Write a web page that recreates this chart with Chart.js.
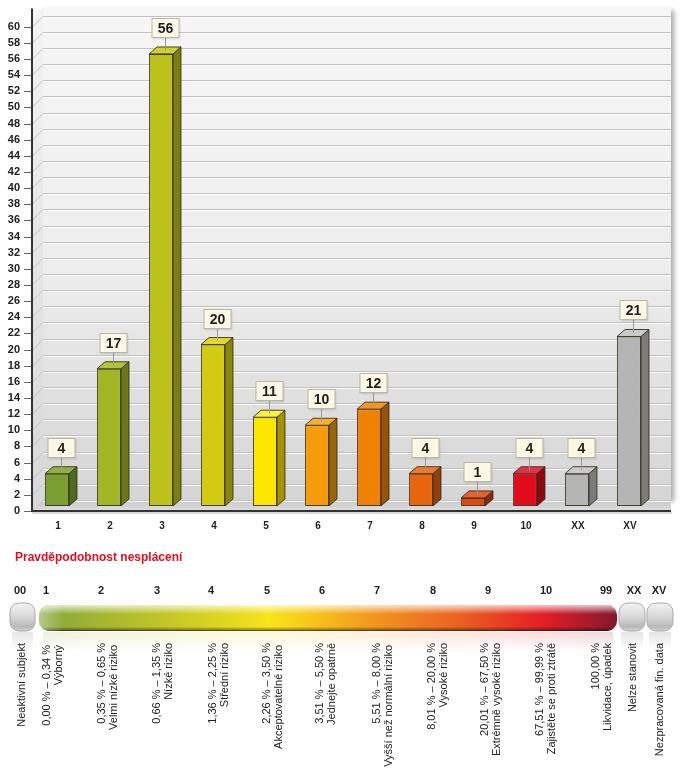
<!DOCTYPE html>
<html>
<head>
<meta charset="utf-8">
<script src="https://cdn.jsdelivr.net/npm/chart.js@4.4.0/dist/chart.umd.min.js"></script>
<style>
  body { margin: 0; background: #fff; }
  #wrap { position: relative; width: 685px; height: 545px; }
  #legend { display: block; width: 685px; height: 225px; }
</style>
</head>
<body>
<div id="wrap"><canvas id="riskChart"></canvas></div>
<canvas id="legend"></canvas>
<script>
  // Chart data
  const categories = ['1', '2', '3', '4', '5', '6', '7', '8', '9', '10', 'XX', 'XV'];
  const subjectCounts = [4, 17, 56, 20, 11, 10, 12, 4, 1, 4, 4, 21];
  const yTicks = [0, 2, 4, 6, 8, 10, 12, 14, 16, 18, 20, 22, 24, 26, 28, 30,
    32, 34, 36, 38, 40, 42, 44, 46, 48, 50, 52, 54, 56, 58, 60];
  const yMax = 61;

  // Bar colours (front, side, top)
  const barFront = ['#7a9f30', '#a2b524', '#bcc219', '#d3cb12', '#ffe600', '#f59c0b', '#ef8203', '#e9650d', '#e14712', '#e10b1b', '#b5b5b5', '#b5b5b5'];
  const barSide  = ['#4f6b1d', '#6b7815', '#7b7f0d', '#8b860a', '#a39400', '#9c6406', '#9a5302', '#923f08', '#8c2b0b', '#8e0810', '#7b7b7b', '#7b7b7b'];
  const barTop   = ['#8fb13f', '#b3c436', '#cdd22a', '#e2da26', '#fff23a', '#f8ae2e', '#f39525', '#ef7a2c', '#e8602e', '#ea3040', '#cacaca', '#cacaca'];

  // Legend (rating scale) texts
  const scaleCodes = ['00', '1', '2', '3', '4', '5', '6', '7', '8', '9', '10', '99', 'XX', 'XV'];
  const scaleRanges = ['', '0,00 % – 0,34 %', '0,35 % – 0,65 %', '0,66 % – 1,35 %', '1,36 % – 2,25 %', '2,26 % – 3,50 %',
    '3,51 % – 5,50 %', '5,51 % – 8,00 %', '8,01 % – 20,00 %', '20,01 % – 67,50 %', '67,51 % – 99,99 %', '100,00 %', '', ''];
  const scaleNames = ['Neaktivní subjekt', 'Výborný', 'Velmi nízké riziko', 'Nízké riziko', 'Střední riziko', 'Akceptovatelné riziko',
    'Jednejte opatrně', 'Vyšší než normální riziko', 'Vysoké riziko', 'Extrémně vysoké riziko', 'Zajistěte se proti ztrátě',
    'Likvidace, úpadek', 'Nelze stanovit', 'Nezpracovaná fin. data'];

  const FONT = '"Liberation Sans", Arial, sans-serif';
  Chart.defaults.font.family = FONT;

  const WALL_DX = 11, WALL_DY = 11;   // depth of the back wall
  const BAR_DX = 8, BAR_DY = 7;       // depth of each bar

  function shade(ctx, pts, fill, stroke) {
    ctx.beginPath();
    ctx.moveTo(pts[0][0], pts[0][1]);
    for (let i = 1; i < pts.length; i++) ctx.lineTo(pts[i][0], pts[i][1]);
    ctx.closePath();
    ctx.fillStyle = fill;
    ctx.fill();
    if (stroke) { ctx.strokeStyle = stroke; ctx.lineWidth = 1; ctx.stroke(); }
  }

  // 3D walls, grid, bar faces and value boxes
  const plot3d = {
    id: 'plot3d',
    beforeDraw(chart) {
      const { ctx, chartArea: a, scales: { y } } = chart;
      const L = a.left, R = a.right + 15, T = a.top, B = a.bottom;
      ctx.save();

      // back wall with a soft shadow
      ctx.shadowColor = 'rgba(0,0,0,0.35)';
      ctx.shadowBlur = 5;
      ctx.shadowOffsetX = 3;
      ctx.shadowOffsetY = 2;
      const g = ctx.createLinearGradient(0, T - WALL_DY, 0, B);
      g.addColorStop(0, '#f6f6f6');
      g.addColorStop(0.5, '#eeeeee');
      g.addColorStop(1, '#d4d4d4');
      ctx.fillStyle = g;
      ctx.fillRect(L + WALL_DX, T - WALL_DY, R - L - WALL_DX, B - T);
      ctx.shadowColor = 'transparent';

      // left wall
      const gl = ctx.createLinearGradient(0, T, 0, B);
      gl.addColorStop(0, '#f3f3f3');
      gl.addColorStop(1, '#d8d8d8');
      shade(ctx, [[L, T], [L + WALL_DX, T - WALL_DY], [L + WALL_DX, B - WALL_DY], [L, B]], gl);

      // floor
      const gf = ctx.createLinearGradient(0, B - WALL_DY, 0, B);
      gf.addColorStop(0, '#c8c8c8');
      gf.addColorStop(1, '#dedede');
      shade(ctx, [[L, B], [L + WALL_DX, B - WALL_DY], [R, B - WALL_DY], [R, B]], gf);

      // grid lines
      y.ticks.forEach(t => {
        const py = Math.round(y.getPixelForValue(t.value)) + 0.5;
        ctx.strokeStyle = '#c2c2c2';
        ctx.lineWidth = 1;
        ctx.beginPath();
        ctx.moveTo(L, py);
        ctx.lineTo(L + WALL_DX, py - WALL_DY);
        ctx.lineTo(R, py - WALL_DY);
        ctx.stroke();
        ctx.strokeStyle = 'rgba(255,255,255,0.8)';
        ctx.beginPath();
        ctx.moveTo(L + WALL_DX, py - WALL_DY + 1);
        ctx.lineTo(R, py - WALL_DY + 1);
        ctx.stroke();
        // tick mark
        ctx.strokeStyle = '#666';
        ctx.beginPath();
        ctx.moveTo(L - 8, py);
        ctx.lineTo(L, py);
        ctx.stroke();
      });

      // axis lines
      ctx.strokeStyle = 'rgba(0,0,0,0.15)';
      ctx.lineWidth = 2;
      ctx.beginPath();
      ctx.moveTo(L, B + 2);
      ctx.lineTo(R + 1, B + 2);
      ctx.stroke();
      ctx.strokeStyle = '#333';
      ctx.lineWidth = 2;
      ctx.beginPath();
      ctx.moveTo(L, T - 10);
      ctx.lineTo(L, B);
      ctx.lineTo(R, B);
      ctx.stroke();
      ctx.restore();
    },
    beforeDatasetsDraw(chart) {
      chart.ctx.save();
      chart.ctx.translate(-1, -5);
    },
    afterDatasetsDraw(chart) {
      const ctx = chart.ctx;
      const meta = chart.getDatasetMeta(0);
      meta.data.forEach((bar, i) => {
        const { x, y, base, width } = bar.getProps(['x', 'y', 'base', 'width'], true);
        const l = x - width / 2, r = x + width / 2;
        const edge = 'rgba(45,40,20,0.85)';
        shade(ctx, [[r, y], [r + BAR_DX, y - BAR_DY], [r + BAR_DX, base - BAR_DY], [r, base]], barSide[i], edge);
        shade(ctx, [[l, y], [l + BAR_DX, y - BAR_DY], [r + BAR_DX, y - BAR_DY], [r, y]], barTop[i], edge);

        // value box
        const cx = Math.round(x + BAR_DX / 2 - 0.5) + 0.5;
        const bw = 27, bh = 19;
        const bb = Math.round(y - 17) + 0.5;
        ctx.strokeStyle = '#9a9a9a';
        ctx.lineWidth = 1;
        ctx.beginPath();
        ctx.moveTo(cx, bb);
        ctx.lineTo(cx, y - BAR_DY / 2);
        ctx.stroke();
        ctx.save();
        ctx.shadowColor = 'rgba(0,0,0,0.15)';
        ctx.shadowBlur = 2;
        ctx.shadowOffsetX = 1;
        ctx.shadowOffsetY = 1;
        ctx.fillStyle = '#fdf8e3';
        ctx.fillRect(cx - bw / 2, bb - bh, bw, bh);
        ctx.restore();
        ctx.strokeStyle = '#bab6a6';
        ctx.strokeRect(cx - bw / 2, bb - bh, bw, bh);
        ctx.fillStyle = '#1e1e1e';
        ctx.font = 'bold 14px ' + FONT;
        ctx.textAlign = 'center';
        ctx.textBaseline = 'middle';
        ctx.fillText(String(subjectCounts[i]), cx, bb - bh / 2 + 1);
      });
      ctx.restore();
    }
  };

  new Chart(document.getElementById('riskChart'), {
    type: 'bar',
    data: {
      labels: categories,
      datasets: [{
        data: subjectCounts,
        backgroundColor: barFront,
        borderColor: 'rgba(45,40,20,0.85)',
        borderWidth: 1,
        borderSkipped: false,
        categoryPercentage: 1,
        barPercentage: 0.46
      }]
    },
    options: {
      responsive: true,
      maintainAspectRatio: false,
      animation: false,
      layout: { padding: { left: 0, right: 29, top: 17, bottom: 0 } },
      plugins: { legend: { display: false }, tooltip: { enabled: false } },
      scales: {
        x: {
          grid: { display: false, drawTicks: false },
          border: { display: false },
          ticks: { color: '#222', font: { size: 10, weight: 'bold' }, padding: 9, maxRotation: 0 },
          afterFit(scale) { scale.height = 34; }
        },
        y: {
          min: 0,
          max: yMax,
          grid: { display: false, drawTicks: false },
          border: { display: false },
          ticks: { color: '#222', font: { size: 11, weight: 'bold' }, padding: 12 },
          afterBuildTicks(scale) { scale.ticks = yTicks.map(v => ({ value: v })); },
          afterFit(scale) { scale.width = 32; }
        }
      }
    },
    plugins: [plot3d]
  });

  // ---- rating scale legend under the chart ----
  const codeX = [20, 46, 101, 157, 211, 267, 322, 377, 433, 488, 546, 606, 634, 659];
  const textX = [22, 47, 102, 157, 213, 267, 320, 377, 432, 485, 540, 596, 633, 660];
  const rangeTop = [643, 645, 643, 643, 643, 643, 643, 643, 643, 643, 643, 643, 643, 643];
  const nameTop  = [643, 645, 645, 643, 643, 645, 643, 645, 643, 643, 643, 643, 643, 643];

  function roundRect(ctx, x, y, w, h, r) {
    ctx.beginPath();
    ctx.moveTo(x + r, y);
    ctx.arcTo(x + w, y, x + w, y + h, r);
    ctx.arcTo(x + w, y + h, x, y + h, r);
    ctx.arcTo(x, y + h, x, y, r);
    ctx.arcTo(x, y, x + w, y, r);
    ctx.closePath();
  }

  function grayPill(ctx, x, y, w, h) {
    const g = ctx.createLinearGradient(0, y, 0, y + h);
    g.addColorStop(0, '#f4f4f4');
    g.addColorStop(0.45, '#dadada');
    g.addColorStop(0.85, '#b9b9b9');
    g.addColorStop(1, '#d2d2d2');
    roundRect(ctx, x, y, w, h, 9);
    ctx.fillStyle = g;
    ctx.fill();
    ctx.strokeStyle = '#a9a9a9';
    ctx.lineWidth = 1;
    ctx.stroke();
    // faint reflection
    const rg = ctx.createLinearGradient(0, y + h + 1, 0, y + h + 18);
    rg.addColorStop(0, 'rgba(180,180,180,0.35)');
    rg.addColorStop(1, 'rgba(180,180,180,0)');
    ctx.fillStyle = rg;
    ctx.fillRect(x + 2, y + h + 1, w - 4, 18);
  }

  function rotatedText(ctx, str, cx, top) {
    ctx.save();
    ctx.translate(cx, top);
    ctx.rotate(-Math.PI / 2);
    ctx.textAlign = 'right';
    ctx.textBaseline = 'middle';
    ctx.fillText(str, 0, 0);
    ctx.restore();
  }

  function drawLegend() {
    const cv = document.getElementById('legend');
    const dpr = window.devicePixelRatio || 1;
    cv.width = 685 * dpr;
    cv.height = 225 * dpr;
    const ctx = cv.getContext('2d');
    ctx.scale(dpr, dpr);
    ctx.translate(0, -545); // work in page coordinates

    ctx.fillStyle = '#e3101b';
    ctx.font = 'bold 12px ' + FONT;
    ctx.textBaseline = 'middle';
    ctx.textAlign = 'left';
    ctx.fillText('Pravděpodobnost nesplácení', 15, 558);

    // gradient scale bar
    const bx = 39, by = 605, bw = 578, bh = 26;
    const hg = ctx.createLinearGradient(bx, 0, bx + bw, 0);
    hg.addColorStop(0, '#84a63a');
    hg.addColorStop(0.11, '#a5b72f');
    hg.addColorStop(0.28, '#d3d023');
    hg.addColorStop(0.4, '#f8e41b');
    hg.addColorStop(0.5, '#f6b91d');
    hg.addColorStop(0.6, '#f18e1f');
    hg.addColorStop(0.74, '#ea5c22');
    hg.addColorStop(0.87, '#e41e26');
    hg.addColorStop(0.97, '#991a2d');
    hg.addColorStop(1, '#7e1a2a');

    // reflection below the bar
    ctx.save();
    ctx.globalAlpha = 0.2;
    ctx.fillStyle = hg;
    ctx.fillRect(bx + 4, by + bh + 1, bw - 8, 20);
    ctx.restore();
    const fade = ctx.createLinearGradient(0, by + bh + 1, 0, by + bh + 21);
    fade.addColorStop(0, 'rgba(255,255,255,0.2)');
    fade.addColorStop(1, 'rgba(255,255,255,1)');
    ctx.fillStyle = fade;
    ctx.fillRect(bx, by + bh + 1, bw, 21);

    roundRect(ctx, bx, by, bw, bh, 10);
    ctx.fillStyle = hg;
    ctx.fill();
    const vg = ctx.createLinearGradient(0, by, 0, by + bh);
    vg.addColorStop(0, 'rgba(255,255,255,0.75)');
    vg.addColorStop(0.35, 'rgba(255,255,255,0)');
    vg.addColorStop(0.84, 'rgba(0,0,0,0)');
    vg.addColorStop(0.94, 'rgba(30,10,0,0.35)');
    vg.addColorStop(1, 'rgba(20,0,0,0.75)');
    roundRect(ctx, bx, by, bw, bh, 10);
    ctx.fillStyle = vg;
    ctx.fill();
    // soft light at the left tip
    const lg = ctx.createLinearGradient(bx, 0, bx + 25, 0);
    lg.addColorStop(0, 'rgba(255,255,255,0.4)');
    lg.addColorStop(1, 'rgba(255,255,255,0)');
    roundRect(ctx, bx, by, bw, bh, 10);
    ctx.fillStyle = lg;
    ctx.fill();

    grayPill(ctx, 10, 603, 25, 28);
    grayPill(ctx, 619, 603, 26, 28);
    grayPill(ctx, 647, 603, 26, 28);

    // codes
    ctx.fillStyle = '#222';
    ctx.font = 'bold 11px ' + FONT;
    ctx.textAlign = 'center';
    scaleCodes.forEach((c, i) => ctx.fillText(c, codeX[i], 591));

    // rotated descriptions
    ctx.font = '11px ' + FONT;
    ctx.fillStyle = '#222';
    scaleNames.forEach((name, i) => {
      if (scaleRanges[i]) {
        rotatedText(ctx, scaleRanges[i], textX[i], rangeTop[i]);
        rotatedText(ctx, name, textX[i] + 12, nameTop[i]);
      } else {
        rotatedText(ctx, name, textX[i], nameTop[i]);
      }
    });
  }

  drawLegend();
</script>
</body>
</html>
